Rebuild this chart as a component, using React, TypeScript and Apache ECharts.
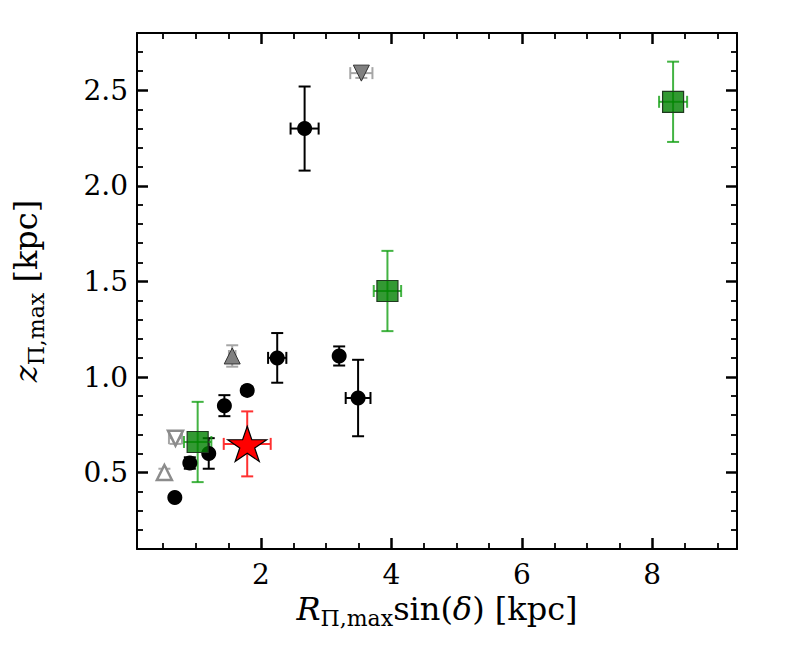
import React, { useEffect, useRef } from "react";
import * as echarts from "echarts";

// ---- data ----
const circleX = [0.68, 0.91, 1.2, 1.44, 1.79, 2.25, 2.67, 3.2, 3.49];
const circleY = [0.37, 0.55, 0.6, 0.85, 0.93, 1.1, 2.3, 1.11, 0.89];
const circleXErr = [0.03, 0.04, 0.04, 0.04, 0.04, 0.14, 0.215, 0.05, 0.19];
const circleYErr = [0.01, 0.03, 0.08, 0.055, 0.02, 0.13, 0.22, 0.05, 0.2];

const grayUpX = [1.56];
const grayUpY = [1.11];
const grayUpXErr = [0.05];
const grayUpYErr = [0.056];

const grayDownX = [3.54];
const grayDownY = [2.59];
const grayDownXErr = [0.17];
const grayDownYErr = [0.025];

const openUpX = [0.52];
const openUpY = [0.5];
const openUpXErr = [0.02];
const openUpYErr = [0.02];

const openDownX = [0.69];
const openDownY = [0.68];
const openDownXErr = [0.1];
const openDownYErr = [0.03];

const squareX = [1.03, 3.94, 8.32];
const squareY = [0.66, 1.45, 2.44];
const squareXErr = [0.21, 0.21, 0.215];
const squareYErr = [0.21, 0.21, 0.21];

const starX = [1.79];
const starY = [0.65];
const starXErr = [0.36];
const starYErr = [0.17];

const xMajorTicks = [2, 4, 6, 8];
const xMinorTicks = [0.5, 1, 1.5, 2.5, 3, 3.5, 4.5, 5, 5.5, 6.5, 7, 7.5, 8.5, 9];
const yMajorTicks = [0.5, 1.0, 1.5, 2.0, 2.5];
const yMinorTicks = [
  0.2, 0.3, 0.4, 0.6, 0.7, 0.8, 0.9, 1.1, 1.2, 1.3, 1.4, 1.6, 1.7, 1.8, 1.9,
  2.1, 2.2, 2.3, 2.4, 2.6, 2.7,
];
const xRange = [0.1, 9.3];
const yRange = [0.1, 2.8];

const FONT = "'DejaVu Serif', 'Liberation Serif', serif";
const STAR =
  "path://M100,0L122.45,69.1L195.1,69.1L136.3,111.8L158.8,180.9L100,138.2L41.2,180.9L63.7,111.8L4.9,69.1L77.55,69.1Z";

function zip(xs: number[], ys: number[]) {
  return xs.map((x, i) => [x, ys[i]]);
}
function zip4(xs: number[], ys: number[], xe: number[], ye: number[]) {
  return xs.map((x, i) => [x, ys[i], xe[i], ye[i]]);
}

function errSeries(data: number[][], color: string, width: number) {
  return {
    type: "custom",
    xAxisIndex: 0,
    yAxisIndex: 0,
    z: 2,
    silent: true,
    encode: { x: 0, y: 1 },
    data,
    renderItem: (params: any, api: any) => {
      const x = api.value(0);
      const y = api.value(1);
      const xe = api.value(2);
      const ye = api.value(3);
      const l = api.coord([x - xe, y]);
      const r = api.coord([x + xe, y]);
      const t = api.coord([x, y + ye]);
      const b = api.coord([x, y - ye]);
      const cap = 6;
      const style = { stroke: color, lineWidth: width };
      const mk = (x1: number, y1: number, x2: number, y2: number) => ({
        type: "line",
        shape: { x1, y1, x2, y2 },
        style,
      });
      return {
        type: "group",
        children: [
          mk(l[0], l[1], r[0], r[1]),
          mk(t[0], t[1], b[0], b[1]),
          mk(t[0] - cap, t[1], t[0] + cap, t[1]),
          mk(b[0] - cap, b[1], b[0] + cap, b[1]),
          mk(l[0], l[1] - cap, l[0], l[1] + cap),
          mk(r[0], r[1] - cap, r[0], r[1] + cap),
        ],
      };
    },
  };
}

const nameRich = {
  it: { fontFamily: FONT, fontSize: 32, fontStyle: "italic", lineHeight: 42, color: "#000" },
  rm: { fontFamily: FONT, fontSize: 32, lineHeight: 42, color: "#000" },
  sub: { fontFamily: FONT, fontSize: 22, lineHeight: 14, verticalAlign: "bottom", color: "#000" },
};

function xAxis(position: string, ticks: number[], major: boolean, label: boolean, extra: any = {}) {
  return {
    type: "value",
    position,
    min: xRange[0],
    max: xRange[1],
    axisLine: { show: major, onZero: false, lineStyle: { color: "#000", width: 2 } },
    axisTick: {
      show: true,
      inside: true,
      customValues: ticks,
      length: major ? 11 : 6,
      lineStyle: { color: "#000", width: major ? 2.5 : 1.8 },
    },
    axisLabel: {
      show: label,
      customValues: ticks,
      fontFamily: FONT,
      fontSize: 28,
      color: "#000",
      margin: 11,
    },
    splitLine: { show: false },
    ...extra,
  };
}

function yAxis(position: string, ticks: number[], major: boolean, label: boolean, extra: any = {}) {
  return {
    type: "value",
    position,
    min: yRange[0],
    max: yRange[1],
    axisLine: { show: major, onZero: false, lineStyle: { color: "#000", width: 2 } },
    axisTick: {
      show: true,
      inside: true,
      customValues: ticks,
      length: major ? 11 : 6,
      lineStyle: { color: "#000", width: major ? 2.5 : 1.8 },
    },
    axisLabel: {
      show: label,
      customValues: ticks,
      fontFamily: FONT,
      fontSize: 28,
      color: "#000",
      margin: 9,
      formatter: (v: number) => v.toFixed(1),
    },
    splitLine: { show: false },
    ...extra,
  };
}

export default function App() {
  const ref = useRef<HTMLDivElement>(null);
  useEffect(() => {
    if (!ref.current) return;
    const chart = echarts.init(ref.current, undefined, { renderer: "svg" });
    chart.setOption({
      animation: false,
      backgroundColor: "#fff",
      grid: { left: 137, right: 73, top: 33, bottom: 114, containLabel: false, outerBoundsMode: "none" },
      xAxis: [
        xAxis("bottom", xMajorTicks, true, true, {
          name: "{it|R}{sub|Π,max}{rm|sin(}{it|δ}{rm|) [kpc]}",
          nameLocation: "middle",
          nameGap: 32,
          nameTextStyle: { rich: nameRich, fontFamily: FONT, fontSize: 32, color: "#000" },
        }),
        xAxis("bottom", xMinorTicks, false, false),
        xAxis("top", xMajorTicks, true, false),
        xAxis("top", xMinorTicks, false, false),
      ],
      yAxis: [
        yAxis("left", yMajorTicks, true, true, {
          name: "{it|z}{sub|Π,max}{rm| [kpc]}",
          nameLocation: "middle",
          nameRotate: 90,
          nameGap: 90,
          nameTextStyle: { rich: nameRich, fontFamily: FONT, fontSize: 32, color: "#000" },
        }),
        yAxis("left", yMinorTicks, false, false),
        yAxis("right", yMajorTicks, true, false),
        yAxis("right", yMinorTicks, false, false),
      ],
      series: [
        errSeries(zip4(circleX, circleY, circleXErr, circleYErr), "#000", 2),
        errSeries(zip4(grayUpX, grayUpY, grayUpXErr, grayUpYErr), "#a6a6a6", 2),
        errSeries(zip4(grayDownX, grayDownY, grayDownXErr, grayDownYErr), "#a6a6a6", 2),
        errSeries(zip4(openUpX, openUpY, openUpXErr, openUpYErr), "#a6a6a6", 2),
        errSeries(zip4(openDownX, openDownY, openDownXErr, openDownYErr), "#a6a6a6", 2),
        errSeries(zip4(squareX, squareY, squareXErr, squareYErr), "rgba(20,160,20,0.8)", 2),
        errSeries(zip4(starX, starY, starXErr, starYErr), "#ff3030", 2),
        {
          type: "scatter",
          z: 3,
          data: zip(circleX, circleY),
          symbol: "circle",
          symbolSize: 15,
          itemStyle: { color: "#000", opacity: 1 },
        },
        {
          type: "scatter",
          z: 3,
          data: zip(grayUpX, grayUpY),
          symbol: "triangle",
          symbolSize: 16,
          itemStyle: { color: "#808080", borderColor: "#333", borderWidth: 1, opacity: 1 },
        },
        {
          type: "scatter",
          z: 3,
          data: zip(grayDownX, grayDownY),
          symbol: "triangle",
          symbolRotate: 180,
          symbolSize: 16,
          itemStyle: { color: "#808080", borderColor: "#333", borderWidth: 1, opacity: 1 },
        },
        {
          type: "scatter",
          z: 3,
          data: zip(openUpX, openUpY),
          symbol: "triangle",
          symbolSize: 15,
          itemStyle: { color: "#fff", borderColor: "#8c8c8c", borderWidth: 2.5, opacity: 1 },
        },
        {
          type: "scatter",
          z: 3,
          data: zip(openDownX, openDownY),
          symbol: "triangle",
          symbolRotate: 180,
          symbolSize: 15,
          itemStyle: { color: "#fff", borderColor: "#8c8c8c", borderWidth: 2.5, opacity: 1 },
        },
        {
          type: "scatter",
          z: 4,
          data: zip(squareX, squareY),
          symbol: "rect",
          symbolSize: 21,
          itemStyle: { color: "rgba(0,128,0,0.8)", borderColor: "#1f3a1f", borderWidth: 1.2, opacity: 1 },
        },
        {
          type: "scatter",
          z: 4,
          data: zip(starX, starY),
          symbol: STAR,
          symbolKeepAspect: true,
          symbolSize: [39, 37],
          itemStyle: { color: "#ff0000", borderColor: "#000", borderWidth: 1.2, opacity: 1 },
        },
      ],
    });
    return () => chart.dispose();
  }, []);
  return <div ref={ref} style={{ width: 810, height: 663, margin: -8 }} />;
}
